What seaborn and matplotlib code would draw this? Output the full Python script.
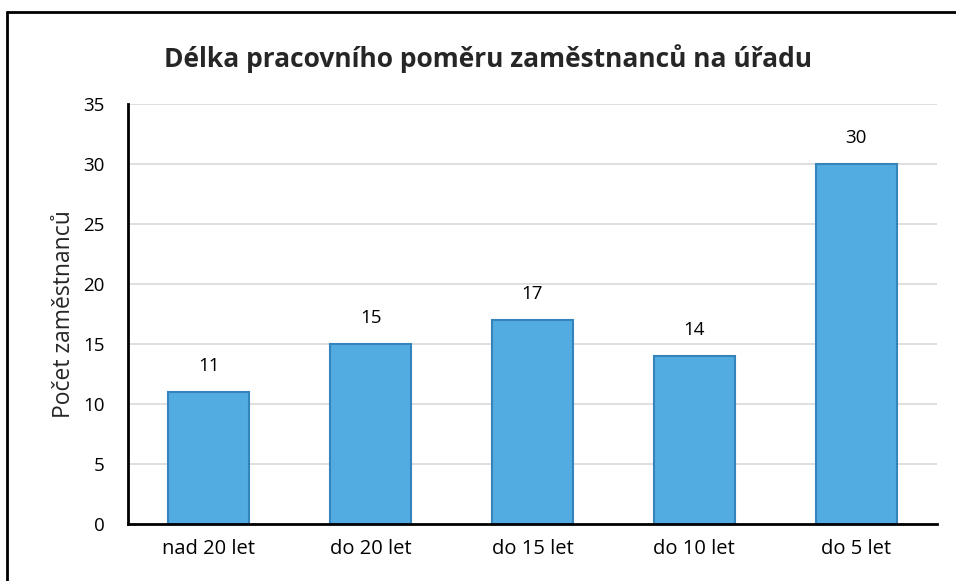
import matplotlib
matplotlib.use("Agg")
import matplotlib.pyplot as plt
import seaborn as sns
import pandas as pd
from matplotlib.lines import Line2D

categories = ["nad 20 let", "do 20 let", "do 15 let", "do 10 let", "do 5 let"]
values = [11, 15, 17, 14, 30]
yticks = [0, 5, 10, 15, 20, 25, 30, 35]
title = "Délka pracovního poměru zaměstnanců na úřadu"
ylabel = "Počet zaměstnanců"

sns.set_theme(style="white")
plt.rcParams['font.family'] = ['Open Sans', 'DejaVu Sans']

df = pd.DataFrame({"cat": categories, "val": values})

fig = plt.figure(figsize=(9.56, 5.81), dpi=100)
ax = fig.add_axes([0.1339, 0.0981, 0.8462, 0.7229])

sns.barplot(data=df, x="cat", y="val", color="#52ACE2", width=0.5, ax=ax,
            edgecolor="#3584BC", linewidth=1.5, saturation=1)

ax.set_ylim(0, 35)
ax.set_yticks(yticks)
ax.set_xlim(-0.5, len(categories) - 0.5)
ax.yaxis.grid(True, color="#D9D9D9", linewidth=1.2)
ax.set_axisbelow(True)
for s in ["top", "right"]:
    ax.spines[s].set_visible(False)
for s in ["left", "bottom"]:
    ax.spines[s].set_color("black")
    ax.spines[s].set_linewidth(2)
ax.tick_params(axis="x", length=0, labelsize=14.5, colors="black", pad=11)
ax.tick_params(axis="y", length=0, labelsize=13.5, colors="black", pad=17)
ax.set_xlabel("")
ax.set_ylabel(ylabel, fontsize=16.5, labelpad=5)

for i, v in enumerate(values):
    ax.annotate(str(v), (i, v), xytext=(0, 12), textcoords="offset points",
                ha="center", va="bottom", fontsize=13.5, color="black")

fig.text(0.51, 0.9, title, ha="center", va="center", fontsize=19, fontweight="bold")

fig.add_artist(Line2D([0.0073, 1.0], [0.979, 0.979], transform=fig.transFigure, color="black", linewidth=2))
fig.add_artist(Line2D([0.0073, 0.0073], [0.0, 0.979], transform=fig.transFigure, color="black", linewidth=2))

fig.savefig("out.png", dpi=100, facecolor="white")
